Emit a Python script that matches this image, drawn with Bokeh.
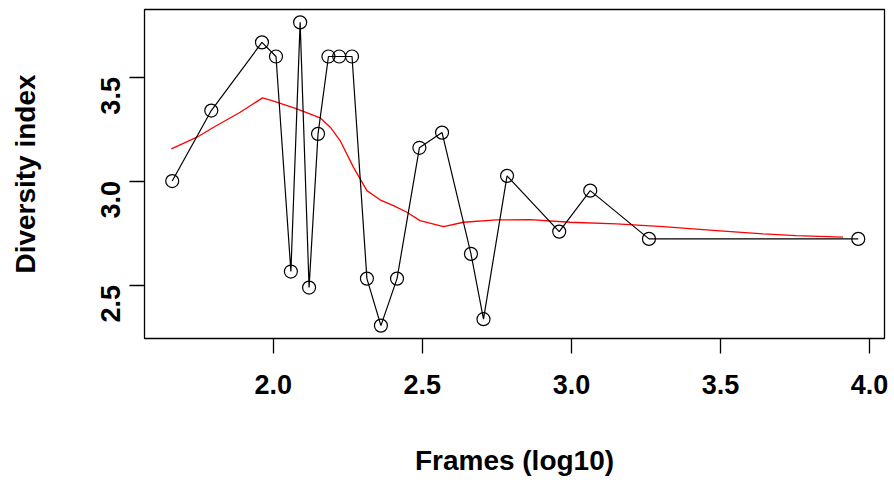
import math
from bokeh.plotting import figure
from bokeh.models import Range1d, FixedTicker
from bokeh.embed import file_html
from bokeh.resources import INLINE

# Observed data: frames (log10) vs diversity index
frames_log10 = [1.661, 1.792, 1.962, 2.009, 2.059, 2.090, 2.120, 2.150, 2.185, 2.221,
                2.264, 2.314, 2.361, 2.415, 2.490, 2.566, 2.663, 2.705, 2.784, 2.959,
                3.063, 3.260, 3.962]
diversity = [3.000, 3.339, 3.667, 3.599, 2.565, 3.763, 2.488, 3.227, 3.599, 3.599,
             3.599, 2.531, 2.305, 2.531, 3.160, 3.233, 2.650, 2.336, 3.025, 2.757,
             2.954, 2.722, 2.722]

# Smoothed (loess) trend
smooth_x = [1.658, 1.744, 1.800, 1.889, 1.964, 2.001, 2.079, 2.157, 2.191, 2.224,
            2.269, 2.314, 2.358, 2.403, 2.448, 2.492, 2.571, 2.638, 2.749, 2.861,
            2.995, 3.151, 3.308, 3.486, 3.643, 3.754, 3.911]
smooth_y = [3.155, 3.211, 3.259, 3.331, 3.400, 3.384, 3.347, 3.304, 3.259, 3.195,
            3.066, 2.954, 2.910, 2.882, 2.850, 2.810, 2.781, 2.802, 2.813, 2.815,
            2.802, 2.794, 2.781, 2.762, 2.746, 2.738, 2.730]

x_ticks = [2.0, 2.5, 3.0, 3.5, 4.0]
y_ticks = [2.5, 3.0, 3.5]

FONT = "Liberation Sans"

p = figure(width=894, height=483, output_backend="svg", toolbar_location=None,
           x_range=Range1d(1.568, 4.050), y_range=Range1d(2.243, 3.825),
           min_border_left=144, min_border_right=10, min_border_top=9,
           min_border_bottom=145)
p.background_fill_color = "white"
p.border_fill_color = "white"
p.outline_line_color = "black"
p.outline_line_width = 1.3
p.xgrid.visible = False
p.ygrid.visible = False

p.line(smooth_x, smooth_y, line_color="red", line_width=1.3)
p.line(frames_log10, diversity, line_color="black", line_width=1.2)
p.scatter(frames_log10, diversity, size=13, fill_color=None,
          line_color="black", line_width=1.2)

for ax in (p.xaxis[0], p.yaxis[0]):
    ax.axis_line_color = None
    ax.major_tick_in = 0
    ax.major_tick_out = 15
    ax.major_tick_line_color = "black"
    ax.major_tick_line_width = 1.3
    ax.minor_tick_line_color = None
    ax.major_label_text_font = FONT
    ax.major_label_text_font_style = "bold"
    ax.major_label_text_font_size = "27px"
    ax.major_label_text_color = "black"
    ax.axis_label_text_font = FONT
    ax.axis_label_text_font_style = "bold"
    ax.axis_label_text_font_size = "28px"
    ax.axis_label_text_color = "black"

p.xaxis[0].ticker = FixedTicker(ticks=x_ticks)
p.yaxis[0].ticker = FixedTicker(ticks=y_ticks)
p.xaxis[0].major_label_overrides = {t: f"{t:.1f}" for t in x_ticks}
p.yaxis[0].major_label_overrides = {t: f"{t:.1f}" for t in y_ticks}
p.xaxis[0].major_label_standoff = 21
p.yaxis[0].major_label_standoff = 19
p.yaxis[0].major_label_orientation = math.pi / 2
p.xaxis[0].axis_label = "Frames (log10)"
p.yaxis[0].axis_label = "Diversity index"
p.xaxis[0].axis_label_standoff = 48
p.yaxis[0].axis_label_standoff = 48

open("out.html", "w").write(file_html(p, INLINE))
